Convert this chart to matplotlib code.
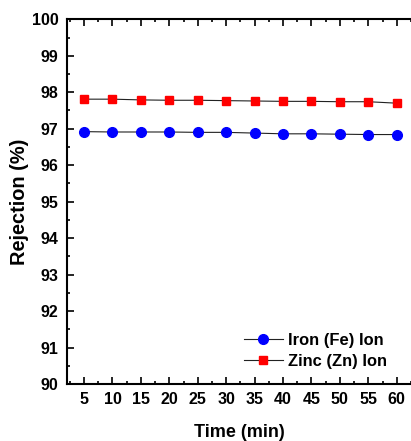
import matplotlib
matplotlib.use("Agg")
import matplotlib.pyplot as plt
from matplotlib.ticker import MultipleLocator

time_min = [5, 10, 15, 20, 25, 30, 35, 40, 45, 50, 55, 60]
fe_rejection = [96.92, 96.91, 96.91, 96.91, 96.90, 96.90, 96.88, 96.86, 96.86, 96.85, 96.84, 96.84]
zn_rejection = [97.81, 97.81, 97.79, 97.78, 97.78, 97.77, 97.76, 97.75, 97.75, 97.74, 97.74, 97.70]

plt.rcParams['font.family'] = ['Liberation Sans', 'DejaVu Sans']
plt.rcParams['font.weight'] = 'bold'

fig = plt.figure(figsize=(4.11, 4.41), dpi=100)
ax = fig.add_axes([67/411, 1 - 384/441, 1 - 67/411, (384 - 19.3)/441])

ax.plot(time_min, fe_rejection, color='#222222', lw=0.8, marker='o', ms=7,
        mfc='#0000ff', mec='#0000ff', label='Iron (Fe) Ion')
ax.plot(time_min, zn_rejection, color='#222222', lw=0.8, marker='s', ms=6,
        mfc='#ff0000', mec='#ff0000', label='Zinc (Zn) Ion')

ax.set_xlim(2.0, 62.5)
ax.set_ylim(90, 100)
ax.set_xticks(time_min)
ax.xaxis.set_minor_locator(MultipleLocator(2.5))
ax.yaxis.set_major_locator(MultipleLocator(1))
ax.yaxis.set_minor_locator(MultipleLocator(0.5))

ax.spines['right'].set_visible(False)
for s in ['left', 'bottom', 'top']:
    ax.spines[s].set_linewidth(1.5)

ax.tick_params(which='both', direction='in', top=True, right=False, width=1.2)
ax.tick_params(which='major', length=5, labelsize=11.5, pad=6)
ax.tick_params(which='minor', length=2.5)
for lab in ax.get_xticklabels() + ax.get_yticklabels():
    lab.set_fontweight('bold')

ax.set_xlabel('Time (min)', fontsize=13, fontweight='bold', labelpad=12)
ax.set_ylabel('Rejection (%)', fontsize=14.4, fontweight='bold', labelpad=2)

leg = ax.legend(loc='lower right', bbox_to_anchor=(0.95, 0.024), frameon=False,
                fontsize=11.9, handlelength=2.4, handletextpad=0.3, labelspacing=0.35,
                borderaxespad=0)
for t in leg.get_texts():
    t.set_fontweight('bold')

fig.savefig('out.png', dpi=100)
